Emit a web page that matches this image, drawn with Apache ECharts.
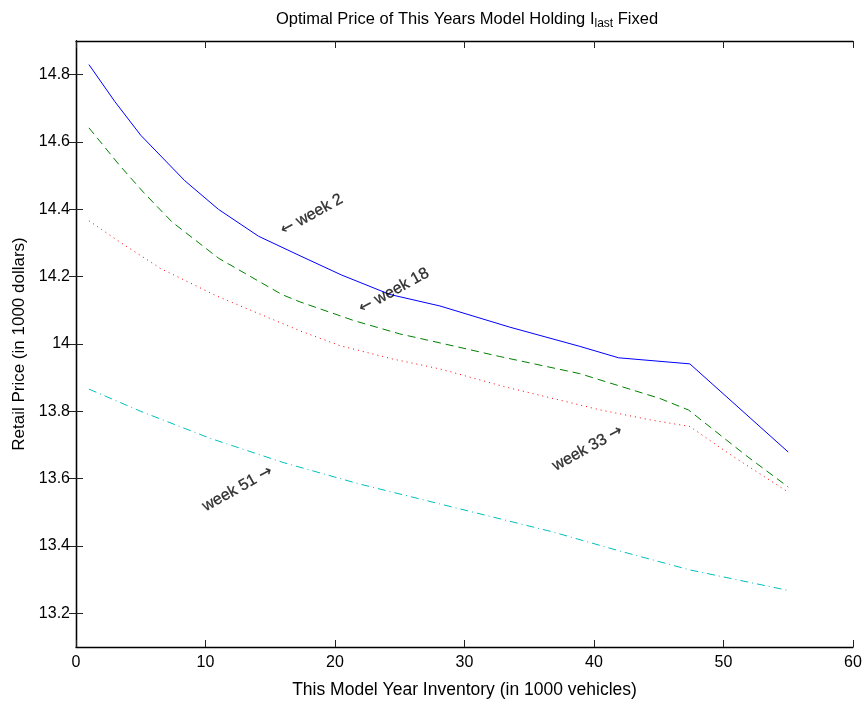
<!DOCTYPE html>
<html>
<head>
<meta charset="utf-8">
<script src="https://cdn.jsdelivr.net/npm/echarts@6/dist/echarts.min.js"></script>
<style>
  html, body { margin: 0; padding: 0; background: #fff; }
  #chart { width: 868px; height: 704px; }
</style>
</head>
<body>
<div id="chart"></div>
<script>
// Inventory levels (1000 vehicles) and optimal retail price (1000 dollars) per week
const week2Inv    = [1, 3, 5, 8.4, 11, 14.1, 17.3, 20.5, 24.25, 28.1, 33.5, 38.9, 41.9, 47.4, 55];
const week2Price  = [14.83, 14.72, 14.62, 14.485, 14.40, 14.32, 14.262, 14.205, 14.147, 14.113, 14.05, 13.993, 13.959, 13.941, 13.679];

const week18Inv   = [1, 3.4, 5.2, 7.4, 11, 15.9, 17.3, 21.5, 25, 29.4, 32.7, 38.9, 45.1, 47.3, 51.8, 55];
const week18Price = [14.642, 14.529, 14.451, 14.363, 14.255, 14.147, 14.125, 14.069, 14.03, 13.992, 13.963, 13.912, 13.838, 13.804, 13.667, 13.575];

const week33Inv   = [1, 3.5, 6.5, 10.9, 17.3, 20.4, 24.5, 28.1, 33.1, 40.5, 44.3, 47.4, 50.7, 55];
const week33Price = [14.366, 14.30, 14.225, 14.142, 14.039, 13.995, 13.955, 13.926, 13.873, 13.804, 13.775, 13.755, 13.667, 13.56];

const week51Inv   = [1, 5, 10.35, 16, 21.9, 28.1, 36.7, 42, 47.4, 55];
const week51Price = [13.866, 13.80, 13.72, 13.648, 13.584, 13.525, 13.443, 13.385, 13.329, 13.268];

const xTicks = [0, 10, 20, 30, 40, 50, 60];
const yTicks = [13.2, 13.4, 13.6, 13.8, 14, 14.2, 14.4, 14.6, 14.8];

// Annotation anchors in data space; the arrow sits on the side named by "arrow"
const notes = [
  { text: 'week 2',  arrow: 'left',  at: [18.2, 14.384] },
  { text: 'week 18', arrow: 'left',  at: [24.55, 14.158] },
  { text: 'week 33', arrow: 'right', at: [39.5, 13.69] },
  { text: 'week 51', arrow: 'right', at: [12.47, 13.57] }
];

const FONT = 'Liberation Sans';
const zip = (xs, ys) => xs.map((x, i) => [x, ys[i]]);

const chart = echarts.init(document.getElementById('chart'), null, { renderer: 'canvas' });

const axisLine = () => ({ show: true, lineStyle: { color: '#000', width: 1.3 } });
const ticks = (extra) => Object.assign({ show: true, inside: true, length: 7, lineStyle: { color: '#222', width: 1 } }, extra || {});

function lineSeries(name, inv, price, color, type) {
  return {
    name, type: 'line', data: zip(inv, price), showSymbol: false, symbol: 'none',
    smooth: false, animation: false, silent: true,
    lineStyle: { color, width: 1, type }
  };
}

const series = [
  lineSeries('week 2', week2Inv, week2Price, '#0000ff', 'solid'),
  lineSeries('week 18', week18Inv, week18Price, '#008000', [8, 5]),
  lineSeries('week 33', week33Inv, week33Price, '#ff0000', [1, 4]),
  lineSeries('week 51', week51Inv, week51Price, '#00bfbf', [8, 4, 1, 4])
];

// Rotated text notes placed through the data scales
series.push({
  type: 'scatter', silent: true, animation: false,
  symbol: 'circle', symbolSize: 2,
  itemStyle: { color: 'rgba(0,0,0,0)' },
  data: notes.map(n => ({ value: n.at, name: n.text, arrow: n.arrow })),
  label: {
    show: true, position: 'inside',
    formatter: p => p.data.arrow === 'left' ? '{a|\u2190} ' + p.name : p.name + ' {a|\u2192}',
    rotate: 29, color: '#000', fontFamily: FONT, fontSize: 16,
    textBorderColor: '#000', textBorderWidth: 0.3, textShadowBlur: 0,
    rich: { a: { fontFamily: 'DejaVu Sans', fontSize: 16, color: '#000', textBorderColor: '#000', textBorderWidth: 0.2 } }
  },
  labelLayout: { hideOverlap: false },
  z: 10
});

chart.setOption({
  animation: false,
  backgroundColor: '#fff',
  title: {
    text: 'Optimal Price of This Years Model Holding I{sub|last} Fixed',
    left: 462, top: 3, textAlign: 'center',
    textStyle: {
      fontFamily: FONT, fontSize: 16.5, fontWeight: 'normal', color: '#000',
      rich: { sub: { fontFamily: FONT, fontSize: 12, color: '#000', verticalAlign: 'bottom', padding: [10, 0, 0, 0] } }
    }
  },
  grid: { left: 76, right: 15, top: 41, bottom: 52, containLabel: false },
  xAxis: [
    {
      type: 'value', min: 0, max: 60, interval: 10, position: 'bottom',
      name: 'This Model Year Inventory (in 1000 vehicles)', nameLocation: 'middle', nameGap: 34,
      nameTextStyle: { fontFamily: FONT, fontSize: 17.5, color: '#000' },
      axisLine: axisLine(), axisTick: ticks(),
      axisLabel: { fontFamily: FONT, fontSize: 16, color: '#000', margin: 8 },
      splitLine: { show: false }
    },
    {
      type: 'value', min: 0, max: 60, interval: 10, position: 'top',
      axisLine: axisLine(), axisTick: ticks(),
      axisLabel: { show: false }, splitLine: { show: false }
    }
  ],
  yAxis: [
    {
      type: 'value', min: 13.1, max: 14.9, position: 'left',
      name: 'Retail Price (in 1000 dollars)', nameLocation: 'middle', nameGap: 46,
      nameTextStyle: { fontFamily: FONT, fontSize: 17, color: '#000' },
      axisLine: axisLine(),
      axisTick: ticks({ customValues: yTicks }),
      axisLabel: { fontFamily: FONT, fontSize: 16, color: '#000', margin: 6,
        customValues: yTicks, formatter: v => String(+v.toFixed(1)) },
      splitLine: { show: false }
    },
    {
      type: 'value', min: 13.1, max: 14.9, position: 'right',
      axisLine: axisLine(),
      axisTick: ticks({ customValues: yTicks }),
      axisLabel: { show: false, customValues: yTicks }, splitLine: { show: false }
    }
  ],
  series
});
</script>
</body>
</html>
